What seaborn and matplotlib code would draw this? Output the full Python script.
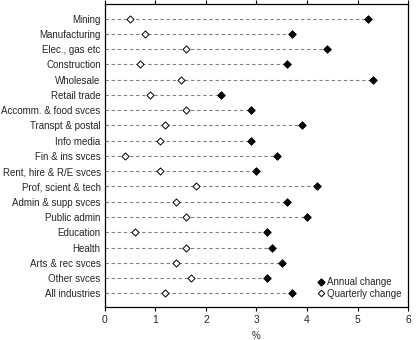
import matplotlib
matplotlib.use("Agg")
import matplotlib.pyplot as plt
import seaborn as sns
import pandas as pd
from matplotlib.lines import Line2D

industries = ["Mining", "Manufacturing", "Elec., gas etc", "Construction", "Wholesale",
              "Retail trade", "Accomm. & food svces", "Transpt & postal", "Info media",
              "Fin & ins svces", "Rent, hire & R/E svces", "Prof, scient & tech",
              "Admin & supp svces", "Public admin", "Education", "Health",
              "Arts & rec svces", "Other svces", "All industries"]
annual = [5.2, 3.7, 4.4, 3.6, 5.3, 2.3, 2.9, 3.9, 2.9, 3.4, 3.0, 4.2, 3.6, 4.0, 3.2, 3.3, 3.5, 3.2, 3.7]
quarterly = [0.5, 0.8, 1.6, 0.7, 1.5, 0.9, 1.6, 1.2, 1.1, 0.4, 1.1, 1.8, 1.4, 1.6, 0.6, 1.6, 1.4, 1.7, 1.2]

df = pd.DataFrame({"industry": industries, "annual": annual, "quarterly": quarterly})
df["pos"] = range(len(df))

sns.set_style("white")
plt.rcParams["font.family"] = ["Liberation Sans", "DejaVu Sans"]
plt.rcParams["font.size"] = 7

fig = plt.figure(figsize=(4.16, 3.40), dpi=100)
ax = fig.add_axes([0.252, 0.097, 0.729, 0.891])

# dashed guide lines out to the furthest point
ax.hlines(df["pos"], 0, df[["annual", "quarterly"]].max(axis=1),
          colors="#808080", linestyles=(0, (3, 2.5)), linewidth=0.8, zorder=1)

sns.scatterplot(data=df, x="annual", y="pos", marker="D", s=15, color="black",
                edgecolor="black", linewidth=0.6, ax=ax, zorder=3)
sns.scatterplot(data=df, x="quarterly", y="pos", marker="D", s=13, color="white",
                edgecolor="black", linewidth=0.7, ax=ax, zorder=3)

ax.set_xlim(0, 6)
ax.set_ylim(18.9, -0.95)
ax.set_yticks(df["pos"])
ax.set_yticklabels(df["industry"])
ax.set_xticks(range(7))
ax.set_xlabel("%", labelpad=4)
ax.set_ylabel("")
ax.tick_params(axis="x", direction="out", length=3, width=0.8, top=True, bottom=True,
               labelsize=7.5, color="black", pad=3)
ax.tick_params(axis="y", length=0, labelsize=7, pad=3)
for s in ax.spines.values():
    s.set_color("black")
    s.set_linewidth(0.9)

handles = [Line2D([], [], marker="D", linestyle="", markersize=3.5, color="black"),
           Line2D([], [], marker="D", linestyle="", markersize=3.3, markerfacecolor="white",
                  markeredgecolor="black", markeredgewidth=0.7)]
ax.legend(handles, ["Annual change", "Quarterly change"], loc="lower right",
          frameon=False, fontsize=7, handlelength=0.6, handletextpad=0.3,
          labelspacing=0.15, borderaxespad=0.0, bbox_to_anchor=(0.99, 0.015))

fig.savefig("out.png", dpi=100)
